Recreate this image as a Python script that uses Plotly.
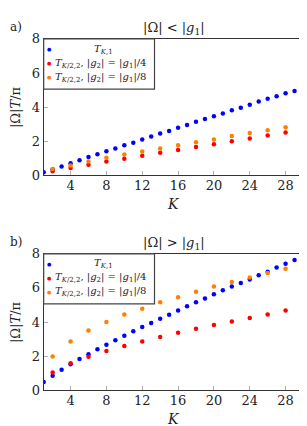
import plotly.graph_objects as go

# ---------------- data ----------------
K_all = list(range(1, 31))
K_even = list(range(2, 31, 2))

# panel a) |Omega| < |g1|
a_T1 = [0.17, 0.34, 0.51, 0.70, 0.87, 1.06, 1.23, 1.40, 1.57, 1.76,
        1.91, 2.09, 2.27, 2.44, 2.60, 2.78, 2.94, 3.13, 3.30, 3.46,
        3.62, 3.81, 3.96, 4.13, 4.32, 4.49, 4.64, 4.81, 4.94, 5.15]
a_T2_quarter = [0.23, 0.42, 0.61, 0.80, 0.97, 1.14, 1.31, 1.48, 1.65, 1.82,
                1.99, 2.16, 2.33, 2.50, 2.65]
a_T2_eighth = [0.36, 0.57, 0.80, 1.02, 1.22, 1.39, 1.57, 1.76, 1.93, 2.10,
               2.30, 2.47, 2.64, 2.81, 2.98]

# panel b) |Omega| > |g1|
b_T1 = [0.49, 0.86, 1.20, 1.52, 1.83, 2.11, 2.41, 2.67, 2.94, 3.20,
        3.46, 3.71, 3.95, 4.20, 4.43, 4.67, 4.93, 5.16, 5.38, 5.63,
        5.86, 6.08, 6.29, 6.49, 6.74, 6.95, 7.19, 7.41, 7.64, 7.85]
b_T2_quarter = [1.05, 1.58, 1.96, 2.31, 2.60, 2.86, 3.12, 3.37, 3.60, 3.82,
                4.03, 4.23, 4.44, 4.67, 4.87]
b_T2_eighth = [1.98, 2.86, 3.50, 4.00, 4.44, 4.78, 5.16, 5.46, 5.78, 6.08,
               6.34, 6.61, 6.87, 7.13, 7.36]

x_ticks = [4, 8, 12, 16, 20, 24, 28]
y_ticks = [0, 2, 4, 6, 8]

titles = ["|Ω| &lt; |<i>g</i><sub>1</sub>|", "|Ω| &gt; |<i>g</i><sub>1</sub>|"]
panel_labels = ["a)", "b)"]
legend_labels = [
    "<i>T</i><sub><i>K</i>,1</sub>",
    "<i>T</i><sub><i>K</i>/2,2</sub>, |<i>g</i><sub>2</sub>| = |<i>g</i><sub>1</sub>|/4",
    "<i>T</i><sub><i>K</i>/2,2</sub>, |<i>g</i><sub>2</sub>| = |<i>g</i><sub>1</sub>|/8",
]
colors = ["#0000ff", "#ff0000", "#ff8000"]

# ---------------- figure ----------------
W, H = 307, 426
FONT = "DejaVu Serif"

def px_x(p):
    return p / W

def px_y(p):
    return 1 - p / H

fig = go.Figure()

panels = [
    (a_T1, a_T2_quarter, a_T2_eighth, "x", "y"),
    (b_T1, b_T2_quarter, b_T2_eighth, "x2", "y2"),
]
for (t1, tq, te, xa, ya) in panels:
    for xs, ys, c in [(K_all, t1, colors[0]), (K_even, tq, colors[1]), (K_even, te, colors[2])]:
        fig.add_trace(go.Scatter(
            x=xs, y=ys, mode="markers", xaxis=xa, yaxis=ya,
            marker=dict(size=4.5, color=c, line=dict(width=0)),
            showlegend=False, hoverinfo="skip"))

# plot area pixel geometry
left_px, right_px = 35.7, 295.5
tops = [24.8, 247.5]
bottoms = [166.0, 389.0]

axis_common = dict(
    showgrid=False, zeroline=False, showline=True, linecolor="#333333",
    linewidth=1, mirror=True, ticks="inside", ticklen=4, tickcolor="#b0b0b0",
    tickfont=dict(family=FONT, size=13, color="#222222"),
)

fig.update_layout(
    width=W, height=H, margin=dict(l=0, r=0, t=0, b=0),
    paper_bgcolor="white", plot_bgcolor="white",
    showlegend=False,
    font=dict(family=FONT),
    xaxis=dict(domain=[px_x(left_px), px_x(right_px)], range=[1, 30],
               tickvals=x_ticks, anchor="y", ticklabelstandoff=-2, **axis_common),
    yaxis=dict(domain=[px_y(bottoms[0]), px_y(tops[0])], range=[0, 8],
               tickvals=y_ticks, anchor="x", **axis_common),
    xaxis2=dict(domain=[px_x(left_px), px_x(right_px)], range=[1, 30],
                tickvals=x_ticks, anchor="y2", ticklabelstandoff=-2, **axis_common),
    yaxis2=dict(domain=[px_y(bottoms[1]), px_y(tops[1])], range=[0, 8],
                tickvals=y_ticks, anchor="x2", **axis_common),
)

annotations = []
shapes = []
center_x = (left_px + right_px) / 2
for i in range(2):
    top, bot = tops[i], bottoms[i]
    # title
    annotations.append(dict(text=titles[i], x=px_x(center_x), y=px_y(top - 11),
                            xref="paper", yref="paper", showarrow=False,
                            xanchor="center", yanchor="middle",
                            font=dict(family=FONT, size=13, color="#222")))
    # panel label
    annotations.append(dict(text=panel_labels[i], x=0, y=px_y(top - 12),
                            xref="paper", yref="paper", showarrow=False,
                            xanchor="left", yanchor="middle",
                            font=dict(family=FONT, size=12, color="#222")))
    # y title
    annotations.append(dict(text="|Ω|<i>T</i>/π", x=px_x(7), y=px_y((top + bot) / 2),
                            xref="paper", yref="paper", showarrow=False,
                            textangle=-90, xanchor="center", yanchor="middle",
                            font=dict(family=FONT, size=13, color="#222")))
    # x title
    annotations.append(dict(text="<i>K</i>", x=px_x(center_x), y=px_y(bot + 30),
                            xref="paper", yref="paper", showarrow=False,
                            xanchor="center", yanchor="middle",
                            font=dict(family=FONT, size=14, color="#222")))
    # legend box
    lx0, lx1 = left_px, 146.5
    ly0, ly1 = top, top + 52
    shapes.append(dict(type="rect", xref="paper", yref="paper",
                       x0=px_x(lx0), x1=px_x(lx1), y0=px_y(ly1), y1=px_y(ly0),
                       fillcolor="white", line=dict(color="#444444", width=1.2),
                       layer="above"))
    row_y = [top + 10.5, top + 25, top + 39.5]
    for j in range(3):
        annotations.append(dict(text="●", x=px_x(41.5), y=px_y(row_y[j]),
                                xref="paper", yref="paper", showarrow=False,
                                xanchor="center", yanchor="middle",
                                font=dict(family="DejaVu Sans", size=5, color=colors[j])))
        if j == 0:
            annotations.append(dict(text=legend_labels[j], x=px_x(96), y=px_y(row_y[j]),
                                    xref="paper", yref="paper", showarrow=False,
                                    xanchor="center", yanchor="middle",
                                    font=dict(family=FONT, size=10, color="#222")))
        else:
            annotations.append(dict(text=legend_labels[j], x=px_x(44.5), y=px_y(row_y[j]),
                                    xref="paper", yref="paper", showarrow=False,
                                    xanchor="left", yanchor="middle",
                                    font=dict(family=FONT, size=10, color="#222")))

fig.update_layout(annotations=annotations, shapes=shapes)
fig.write_html("out.html")
